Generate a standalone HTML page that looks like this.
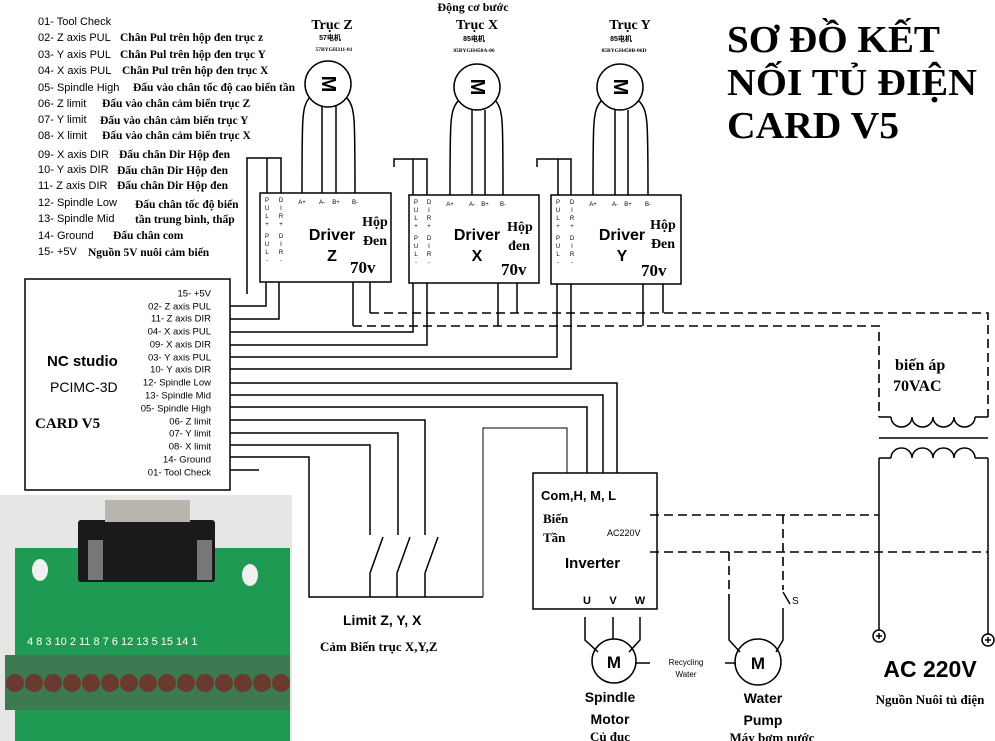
<!DOCTYPE html>
<html><head><meta charset="utf-8"><style>
body{margin:0;background:#fff}
svg{display:block}
.s{font-family:"Liberation Sans",sans-serif}
.r{font-family:"Liberation Serif",serif;font-weight:bold}
</style></head><body>
<svg width="995" height="741" viewBox="0 0 995 741" xmlns="http://www.w3.org/2000/svg">
<rect width="995" height="741" fill="#fff"/>
<g class="r" font-size="38" fill="#000">
<text x="727" y="52" textLength="213" lengthAdjust="spacingAndGlyphs">SƠ ĐỒ KẾT</text>
<text x="727" y="95" textLength="250" lengthAdjust="spacingAndGlyphs">NỐI TỦ ĐIỆN</text>
<text x="727" y="138" textLength="172" lengthAdjust="spacingAndGlyphs">CARD V5</text>
</g>
<g font-size="11" dominant-baseline="central">
<g class="s">
<text x="38" y="22">01- Tool Check</text>
<text x="38" y="38">02- Z axis PUL</text>
<text x="38" y="55">03- Y axis PUL</text>
<text x="38" y="71">04- X axis PUL</text>
<text x="38" y="88">05- Spindle High</text>
<text x="38" y="104">06- Z limit</text>
<text x="38" y="120">07- Y limit</text>
<text x="38" y="136">08- X limit</text>
<text x="38" y="155">09- X axis DIR</text>
<text x="38" y="170">10- Y axis DIR</text>
<text x="38" y="186">11- Z axis DIR</text>
<text x="38" y="203">12- Spindle Low</text>
<text x="38" y="219">13- Spindle Mid</text>
<text x="38" y="236">14-  Ground</text>
<text x="38" y="252">15- +5V</text>
</g>
<g class="r" font-size="11.5">
<text x="120" y="38">Chân Pul trên hộp đen trục z</text>
<text x="120" y="55">Chân Pul trên hộp đen trục Y</text>
<text x="122" y="71">Chân Pul trên hộp đen trục X</text>
<text x="133" y="88">Đấu vào chân tốc độ cao biến tần</text>
<text x="102" y="104">Đấu vào chân cảm biến trục Z</text>
<text x="100" y="121">Đấu vào chân cảm biến trục  Y</text>
<text x="102" y="136">Đấu vào chân cảm biến trục X</text>
<text x="119" y="155">Đấu chân Dir Hộp đen</text>
<text x="117" y="171">Đấu chân Dir Hộp đen</text>
<text x="117" y="186">Đấu chân Dir Hộp đen</text>
<text x="135" y="205">Đấu chân tốc độ biến</text>
<text x="135" y="220">tần trung bình, thấp</text>
<text x="113" y="236">Đấu chân com</text>
<text x="88" y="253">Nguồn 5V nuôi cảm biến</text>
</g>
</g>
<g text-anchor="middle">
<text class="r" x="473" y="11" font-size="12">Động cơ bước</text>
<text class="r" x="332" y="29" font-size="14">Trục Z</text>
<text class="r" x="477" y="29" font-size="14">Trục X</text>
<text class="r" x="630" y="29" font-size="14">Trục Y</text>
<g class="s" font-size="7" font-weight="bold">
<text x="330" y="40">57电机</text><text x="474" y="41">85电机</text><text x="621" y="41">85电机</text>
</g>
<g class="r" font-size="5.5">
<text x="334" y="51">57BYGH311-01</text><text x="474" y="52">85BYGH450A-06</text><text x="624" y="52">85BYGH450B-06D</text>
</g>
</g>
<g fill="none" stroke="#000" stroke-width="1.5">
<circle cx="328" cy="84" r="23"/><circle cx="477" cy="87" r="23"/><circle cx="620" cy="87" r="23"/>
<path d="M309,98 C302,108 302,115 302,193 M322,106 V193 M336,106 V193 M347,98 C355,108 355,115 355,193"/>
<path d="M458,101 C450,111 450,118 450,195 M472,110 V195 M485,110 V195 M496,101 C503,111 503,118 503,195"/>
<path d="M601,101 C593,111 593,118 593,195 M615,110 V195 M628,110 V195 M639,101 C648,111 648,118 648,195"/>
<rect x="260" y="193" width="131" height="89"/>
<rect x="409" y="195" width="130" height="88"/>
<rect x="551" y="195" width="130" height="89"/>
<path d="M247,294 V158 H281 V193 M267,158 V193"/>
<path d="M394,167 V159 H427 V195 M413,159 V195"/>
<path d="M537,167 V159 H571 V195 M558,159 V195"/>
<rect x="25" y="279" width="205" height="211"/>
<path d="M230,306 H266 V282 M230,319 H279 V282"/>
<path d="M230,332 H413 V283 M230,345 H427 V283"/>
<path d="M230,357 H557 V284 M230,369 H571 V284"/>
<path d="M230,383 H617 V473 M230,395 H603 V473 M230,407 H587 V473"/>
<path d="M230,420 H425 V535 M230,433 H398 V535 M230,445 H370 V535"/>
<path d="M230,457 H309 V597 H483 M230,470 H259"/>
<path d="M370,573 L383,537 M370,573 V597 M397,573 L410,537 M397,573 V597 M425,573 L438,537 M425,573 V597"/>
<path stroke-width="1" d="M483,597 V428 H567 V473"/>
<path d="M353,282 V326 M370,282 V313 M498,283 V326 M517,283 V313 M643,284 V326 M663,284 V313"/>
<rect x="533" y="473" width="124" height="136"/>
<path d="M585,617 V640 L598,652 M613,617 V639 M640,617 V640 L629,652"/>
<circle cx="614" cy="661" r="22"/><path d="M636,663 H650"/>
<circle cx="758" cy="662" r="23"/><path d="M725,663 H736"/>
<path d="M729,600 V640 L740,652 M783,592 L790,604 M783,608 V640 L776,652"/>
<path d="M879,417 H891 M975,417 H988 M891,417 a10.5,10 0 0,0 21,0 a10.5,10 0 0,0 21,0 a10.5,10 0 0,0 21,0 a10.5,10 0 0,0 21,0"/>
<path d="M879,438 H988"/>
<path d="M879,458 H891 M975,458 H988 M891,458 a10.5,10 0 0,1 21,0 a10.5,10 0 0,1 21,0 a10.5,10 0 0,1 21,0 a10.5,10 0 0,1 21,0"/>
<path d="M879,458 V630 M988,458 V634"/>
<circle cx="879" cy="636" r="6"/><circle cx="988" cy="640" r="6"/>
<path d="M876,636 H882 M879,633 V639 M985,640 H991 M988,637 V643"/>
</g>
<g fill="none" stroke="#000" stroke-width="1.6" stroke-dasharray="9,5">
<path d="M370,313 H988 V417"/>
<path d="M353,326 H879 V417"/>
<path d="M650,515 H879 M650,552 H988"/>
<path d="M783,515 V590 M729,552 V600"/>
</g>
<g class="s" font-size="9.5" text-anchor="end" dominant-baseline="central">
<text x="211" y="294">15- +5V</text><text x="211" y="307">02- Z axis PUL</text>
<text x="211" y="319">11- Z axis DIR</text><text x="211" y="332">04- X axis PUL</text>
<text x="211" y="345">09- X axis DIR</text><text x="211" y="358">03- Y axis PUL</text>
<text x="211" y="370">10- Y axis DIR</text><text x="211" y="383">12- Spindle Low</text>
<text x="211" y="396">13- Spindle Mid</text><text x="211" y="409">05- Spindle High</text>
<text x="211" y="422">06- Z limit</text><text x="211" y="434">07- Y limit</text>
<text x="211" y="447">08- X limit</text><text x="211" y="460">14-  Ground</text>
<text x="211" y="473">01- Tool Check</text>
</g>
<text class="s" x="47" y="366" font-size="15" font-weight="bold">NC studio</text>
<text class="s" x="50" y="392" font-size="14">PCIMC-3D</text>
<text class="r" x="35" y="428" font-size="15">CARD V5</text>
<g class="s" font-size="6" fill="#000" text-anchor="middle">
<text x="267" y="202">P</text><text x="267" y="210">U</text><text x="267" y="218">L</text><text x="267" y="226">+</text>
<text x="267" y="238">P</text><text x="267" y="246">U</text><text x="267" y="254">L</text><text x="267" y="262">-</text>
<text x="281" y="202">D</text><text x="281" y="210">I</text><text x="281" y="218">R</text><text x="281" y="226">+</text>
<text x="281" y="238">D</text><text x="281" y="246">I</text><text x="281" y="254">R</text><text x="281" y="262">-</text>
<text x="416" y="204">P</text><text x="416" y="212">U</text><text x="416" y="220">L</text><text x="416" y="228">+</text>
<text x="416" y="240">P</text><text x="416" y="248">U</text><text x="416" y="256">L</text><text x="416" y="264">-</text>
<text x="429" y="204">D</text><text x="429" y="212">I</text><text x="429" y="220">R</text><text x="429" y="228">+</text>
<text x="429" y="240">D</text><text x="429" y="248">I</text><text x="429" y="256">R</text><text x="429" y="264">-</text>
<text x="558" y="204">P</text><text x="558" y="212">U</text><text x="558" y="220">L</text><text x="558" y="228">+</text>
<text x="558" y="240">P</text><text x="558" y="248">U</text><text x="558" y="256">L</text><text x="558" y="264">-</text>
<text x="572" y="204">D</text><text x="572" y="212">I</text><text x="572" y="220">R</text><text x="572" y="228">+</text>
<text x="572" y="240">D</text><text x="572" y="248">I</text><text x="572" y="256">R</text><text x="572" y="264">-</text>
<text x="302" y="204">A+</text><text x="322" y="204">A-</text><text x="336" y="204">B+</text><text x="355" y="204">B-</text>
<text x="450" y="206">A+</text><text x="472" y="206">A-</text><text x="485" y="206">B+</text><text x="503" y="206">B-</text>
<text x="593" y="206">A+</text><text x="615" y="206">A-</text><text x="628" y="206">B+</text><text x="648" y="206">B-</text>
</g>
<g class="s" font-size="16" font-weight="bold" text-anchor="middle">
<text x="332" y="240">Driver</text><text x="332" y="261">Z</text>
<text x="477" y="240">Driver</text><text x="477" y="261">X</text>
<text x="622" y="240">Driver</text><text x="622" y="261">Y</text>
</g>
<g class="r" font-size="14" text-anchor="middle">
<text x="375" y="226">Hộp</text><text x="375" y="245">Đen</text>
<text x="520" y="231">Hộp</text><text x="519" y="250">đen</text>
<text x="663" y="229">Hộp</text><text x="663" y="248">Đen</text>
</g>
<g class="r" font-size="17">
<text x="350" y="273">70v</text><text x="501" y="275">70v</text><text x="641" y="276">70v</text>
</g>
<g class="s" font-size="20" font-weight="bold" text-anchor="middle" dominant-baseline="central">
<text x="328" y="84" transform="rotate(90 328 84)">M</text>
<text x="477" y="87" transform="rotate(90 477 87)">M</text>
<text x="620" y="87" transform="rotate(90 620 87)">M</text>
</g>
<text class="s" x="541" y="500" font-size="13" font-weight="bold">Com,H, M, L</text>
<text class="r" x="543" y="523" font-size="13">Biến</text>
<text class="r" x="543" y="542" font-size="13">Tần</text>
<text class="s" x="607" y="536" font-size="9">AC220V</text>
<text class="s" x="565" y="568" font-size="15" font-weight="bold">Inverter</text>
<g class="s" font-size="11" font-weight="bold" text-anchor="middle"><text x="587" y="604">U</text><text x="613" y="604">V</text><text x="640" y="604">W</text></g>
<text class="s" x="792" y="604" font-size="10">S</text>
<g class="s" font-size="17" font-weight="bold" text-anchor="middle"><text x="614" y="668">M</text><text x="758" y="669">M</text></g>
<g class="s" font-size="8" text-anchor="middle"><text x="686" y="665">Recycling</text><text x="686" y="677">Water</text></g>
<g class="s" font-size="14" font-weight="bold" text-anchor="middle">
<text x="610" y="702">Spindle</text><text x="610" y="724">Motor</text>
<text x="763" y="703">Water</text><text x="763" y="725">Pump</text>
</g>
<g class="r" font-size="13" text-anchor="middle"><text x="610" y="741">Củ đục</text><text x="772" y="742">Máy bơm nước</text></g>
<text class="s" x="930" y="677" font-size="23" font-weight="bold" text-anchor="middle">AC  220V</text>
<text class="r" x="930" y="704" font-size="13" text-anchor="middle">Nguồn Nuôi tủ điện</text>
<text class="r" x="895" y="370" font-size="16">biến áp</text>
<text class="r" x="893" y="391" font-size="16">70VAC</text>
<text class="s" x="343" y="625" font-size="14" font-weight="bold">Limit Z, Y, X</text>
<text class="r" x="320" y="651" font-size="13">Cảm Biến trục X,Y,Z</text>
<g>
<rect x="0" y="495" width="292" height="246" fill="#e6e6e4"/>
<rect x="15" y="548" width="275" height="193" fill="#1f9a52"/>
<rect x="78" y="520" width="137" height="62" fill="#1a1a1a" rx="3"/>
<rect x="105" y="500" width="85" height="22" fill="#b8b4ae"/>
<rect x="88" y="540" width="15" height="40" fill="#777"/><rect x="197" y="540" width="15" height="40" fill="#777"/>
<ellipse cx="40" cy="570" rx="8" ry="11" fill="#f0f0ee"/><ellipse cx="250" cy="575" rx="8" ry="11" fill="#f0f0ee"/>
<g class="s" font-size="11" fill="#fff"><text x="27" y="645">4  8  3 10  2 11  8  7  6 12 13  5 15 14  1</text></g>
<rect x="5" y="655" width="285" height="55" fill="#3d7a52"/>
<g fill="#6b3a2e">
<circle cx="15" cy="683" r="9"/><circle cx="34" cy="683" r="9"/><circle cx="53" cy="683" r="9"/><circle cx="72" cy="683" r="9"/><circle cx="91" cy="683" r="9"/><circle cx="110" cy="683" r="9"/><circle cx="129" cy="683" r="9"/><circle cx="148" cy="683" r="9"/><circle cx="167" cy="683" r="9"/><circle cx="186" cy="683" r="9"/><circle cx="205" cy="683" r="9"/><circle cx="224" cy="683" r="9"/><circle cx="243" cy="683" r="9"/><circle cx="262" cy="683" r="9"/><circle cx="281" cy="683" r="9"/>
</g>
</g>
</svg>
</body></html>
